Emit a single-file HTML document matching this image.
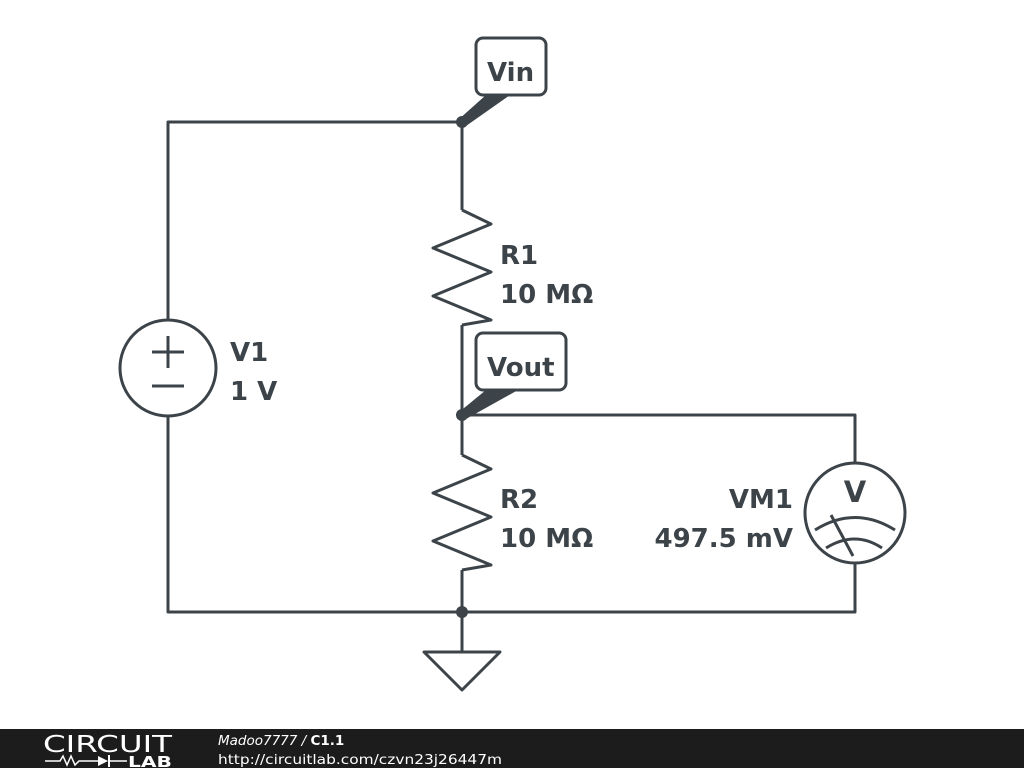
<!DOCTYPE html>
<html><head><meta charset="utf-8"><style>
body{margin:0;width:1024px;height:768px;background:#fff;overflow:hidden;font-family:"DejaVu Sans",sans-serif}
</style></head><body>
<svg width="1024" height="768" viewBox="0 0 1024 768" xmlns="http://www.w3.org/2000/svg">
<g stroke="#3d4449" stroke-width="3" fill="none" stroke-linejoin="round">
<polyline points="168,320 168,122 462,122 462,210"/>
<polyline points="168,416 168,612 855,612 855,563"/>
<polyline points="462,325 462,455"/>
<polyline points="462,570 462,612"/>
<polyline points="462,415 855,415 855,463"/>
<line x1="462" y1="612" x2="462" y2="652"/>
<polygon points="424,652 500,652 462,690"/>
<polyline points="462,210 491,224 433,248 491,272 433,296 491,320 462,325"/>
<polyline points="462,455 491,469 433,493 491,517 433,541 491,565 462,570"/>
<circle cx="168" cy="368" r="48"/>
<line x1="152" y1="352" x2="184" y2="352"/><line x1="168" y1="336" x2="168" y2="368"/>
<line x1="152" y1="386" x2="184" y2="386"/>
<circle cx="855" cy="513" r="50"/>
<path d="M815,530 Q855,505 895,530"/>
<path d="M826,548 Q855,530 882,548"/>
<line x1="831" y1="515" x2="853" y2="556"/>
<rect x="476" y="38" width="70" height="57" rx="7" fill="#fff"/>
<rect x="476" y="333" width="90" height="57" rx="7" fill="#fff"/>
</g>
<g fill="#3d4449">
<circle cx="462" cy="122" r="6"/><circle cx="462" cy="415" r="6"/><circle cx="462" cy="612" r="6"/>
<polygon points="458,120 486,95 510,95 466,126"/>
<polygon points="458,413 486,390 518,390 466,419"/>
<g font-weight="bold" font-size="26">
<text x="487" y="81">Vin</text>
<text x="487" y="376">Vout</text>
<text x="500" y="264">R1</text><text x="500" y="303">10 MΩ</text>
<text x="500" y="508">R2</text><text x="500" y="547">10 MΩ</text>
<text x="230" y="361">V1</text><text x="230" y="400">1 V</text>
<text x="793" y="508" text-anchor="end">VM1</text><text x="793" y="547" text-anchor="end">497.5 mV</text>
<text x="855" y="502" text-anchor="middle" font-size="29">V</text>
</g></g>
<rect x="0" y="729" width="1024" height="39" fill="#1c1c1c"/>
<g fill="#fff">
<text x="43" y="752" font-size="23" textLength="129" lengthAdjust="spacingAndGlyphs">CIRCUIT</text>
<text x="128" y="767" font-size="15" font-weight="bold" textLength="44" lengthAdjust="spacingAndGlyphs">LAB</text>
<polyline points="45,761 60,761 63,756 67,765 71,756 75,765 79,761 98,761" stroke="#fff" stroke-width="1.5" fill="none"/>
<polygon points="98,756 98,766 108,761"/><line x1="109" y1="755" x2="109" y2="767" stroke="#fff" stroke-width="2"/>
<line x1="109" y1="761" x2="127" y2="761" stroke="#fff" stroke-width="1.5"/>
<text x="218" y="745" font-size="13.5" font-style="italic">Madoo7777 / <tspan font-weight="bold" font-style="normal">C1.1</tspan></text>
<text x="218" y="764" font-size="13.5" textLength="284" lengthAdjust="spacingAndGlyphs">http://circuitlab.com/czvn23j26447m</text>
</g>
</svg>
</body></html>
